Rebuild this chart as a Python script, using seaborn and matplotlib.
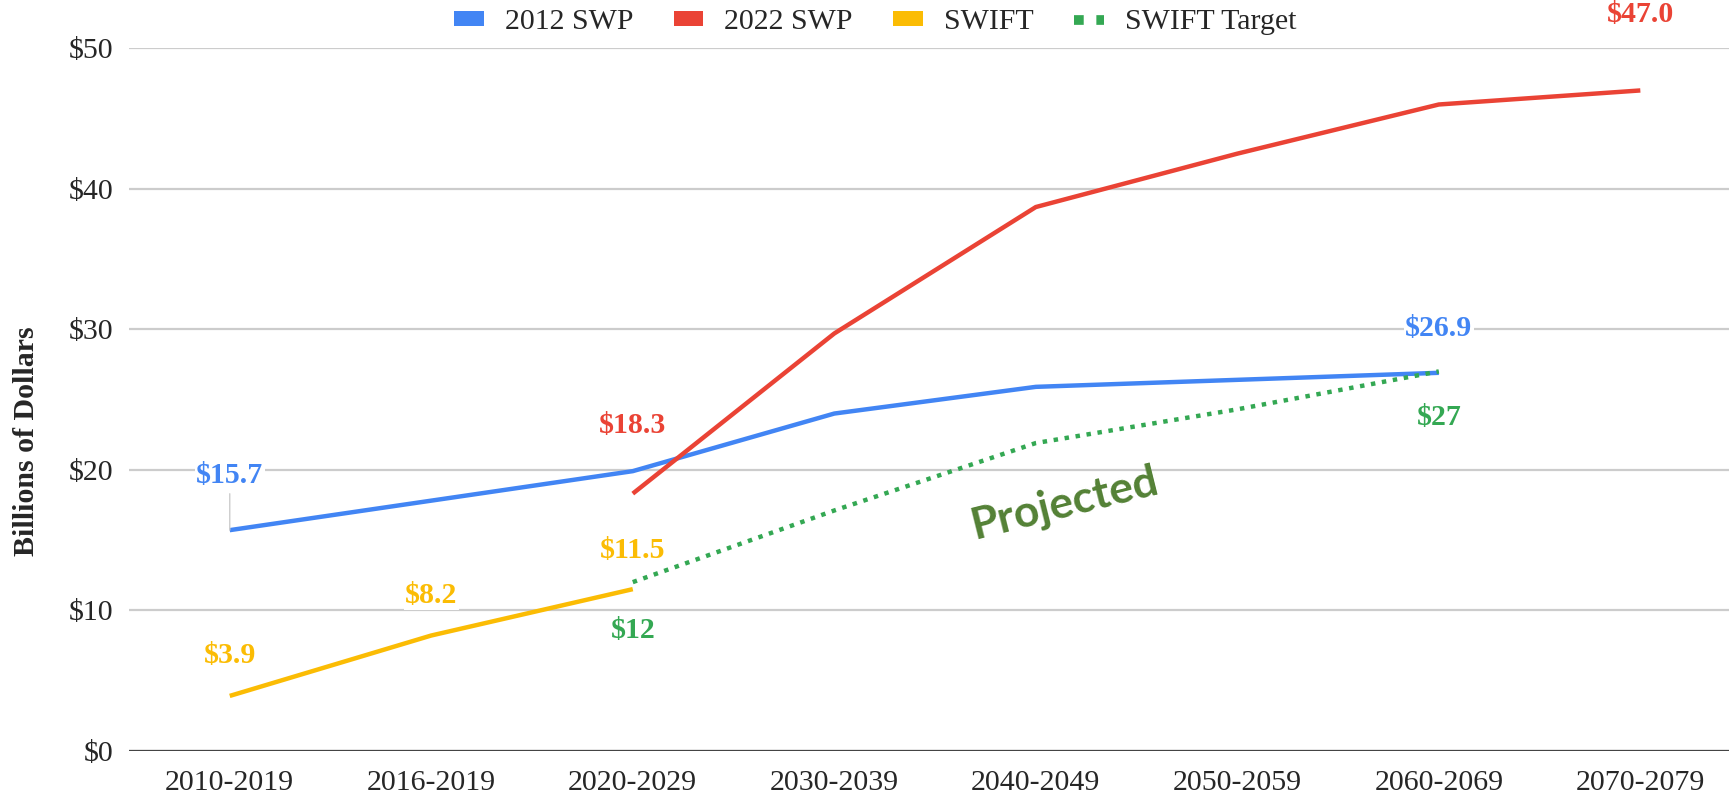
import numpy as np
import pandas as pd
import matplotlib
matplotlib.use("Agg")
import matplotlib.pyplot as plt
import seaborn as sns
from matplotlib.patches import Patch
from matplotlib.lines import Line2D

# ---------------- data ----------------
periods = ["2010-2019", "2016-2019", "2020-2029", "2030-2039",
           "2040-2049", "2050-2059", "2060-2069", "2070-2079"]
swp_2012 = [15.7, 17.8, 19.9, 24.0, 25.9, 26.4, 26.9, np.nan]
swp_2022 = [np.nan, np.nan, 18.3, 29.7, 38.7, 42.5, 46.0, 47.0]
swift = [3.9, 8.2, 11.5, np.nan, np.nan, np.nan, np.nan, np.nan]
swift_target = [np.nan, np.nan, 12.0, 17.1, 21.9, 24.3, 27.0, np.nan]
series_names = ["2012 SWP", "2022 SWP", "SWIFT", "SWIFT Target"]
y_ticks = [0, 10, 20, 30, 40, 50]
y_tick_labels = ["$0", "$10", "$20", "$30", "$40", "$50"]

colors = {"2012 SWP": "#4285F4", "2022 SWP": "#EA4335",
          "SWIFT": "#FBBC04", "SWIFT Target": "#34A853"}

df = pd.DataFrame({"period": periods, "pos": np.arange(len(periods)),
                   "2012 SWP": swp_2012, "2022 SWP": swp_2022,
                   "SWIFT": swift, "SWIFT Target": swift_target})

# ---------------- style ----------------
sns.set_style("white")
plt.rcParams["font.family"] = ["Liberation Serif", "DejaVu Serif"]

W, H = 1729, 795
fig = plt.figure(figsize=(W / 100, H / 100), dpi=100)
ax = fig.add_axes([129 / W, (H - 750.7) / H, 1 - 129 / W, (750.7 - 48.3) / H])

dotted = (0, (1, 1.5))
for name in series_names:
    sub = df[["pos", name]].dropna()
    ls = dotted if name == "SWIFT Target" else "-"
    sns.lineplot(data=sub, x="pos", y=name, ax=ax, color=colors[name],
                 lw=3.2, linestyle=ls, estimator=None, errorbar=None,
                 legend=False, solid_capstyle="butt", dash_capstyle="butt")

# ---------------- data labels ----------------
# (series, index, offset in points, format)
labels = [
    ("2012 SWP", 0, 39, "${:.1f}"),
    ("2012 SWP", 6, 32, "${:.1f}"),
    ("2022 SWP", 2, 49, "${:.1f}"),
    ("2022 SWP", 7, 55, "${:.1f}"),
    ("SWIFT", 0, 29, "${:.1f}"),
    ("SWIFT", 1, 29, "${:.1f}"),
    ("SWIFT", 2, 28, "${:.1f}"),
    ("SWIFT Target", 2, -35, "${:.0f}"),
    ("SWIFT Target", 6, -33, "${:.0f}"),
]
for name, i, off, fmt in labels:
    val = df[name].iloc[i]
    kw = {}
    if name == "2012 SWP" and i == 0:
        kw["arrowprops"] = dict(arrowstyle="-", color="#cccccc", lw=1,
                                shrinkA=2, shrinkB=0)
    ax.annotate(fmt.format(val), xy=(df["pos"].iloc[i], val),
                xytext=(0, off), textcoords="offset points",
                ha="center", va="center", fontsize=21.5, fontweight="bold",
                color=colors[name], zorder=5, annotation_clip=False,
                bbox=dict(fc="white", ec="none", pad=1), **kw)

ax.text(4.14, 17.6, "Projected", rotation=14, ha="center", va="center",
        fontsize=32, fontweight="bold", color="#538135",
        family=["Lato", "DejaVu Sans"])

# ---------------- axes ----------------
ax.set_xlim(-0.5, 7.44)
ax.set_ylim(0, 50)
ax.set_xticks(df["pos"])
ax.set_xticklabels(periods, fontsize=21.5)
ax.set_yticks(y_ticks)
ax.set_yticklabels(y_tick_labels, fontsize=21.5)
ax.tick_params(axis="both", length=0)
ax.tick_params(axis="x", pad=14)
ax.tick_params(axis="y", pad=11)
ax.set_xlabel("")
ax.set_ylabel("")
ax.grid(axis="y", color="#cccccc", lw=1.6)
ax.grid(axis="x", visible=False)
ax.set_axisbelow(True)
ax.axhline(0, color="#444444", lw=1.6, zorder=1)
for s in ax.spines.values():
    s.set_visible(False)

fig.text(27 / W, 1 - 441 / H, "Billions of Dollars", rotation=90,
         ha="center", va="center", fontsize=21.5, fontweight="bold")

# ---------------- legend ----------------
handles = [Patch(facecolor=colors[n], edgecolor="none") for n in series_names[:3]]
handles.append(Line2D([], [], color=colors["SWIFT Target"], lw=7,
                      linestyle=(0, (1, 1.3)), dash_capstyle="butt"))
fig.legend(handles, series_names, loc="center",
           bbox_to_anchor=(875 / W, 1 - 22 / H), ncol=4, frameon=False,
           fontsize=21.5, handlelength=1.0, handleheight=0.42,
           handletextpad=0.7, columnspacing=1.35)

fig.savefig("out.png", dpi=100)
